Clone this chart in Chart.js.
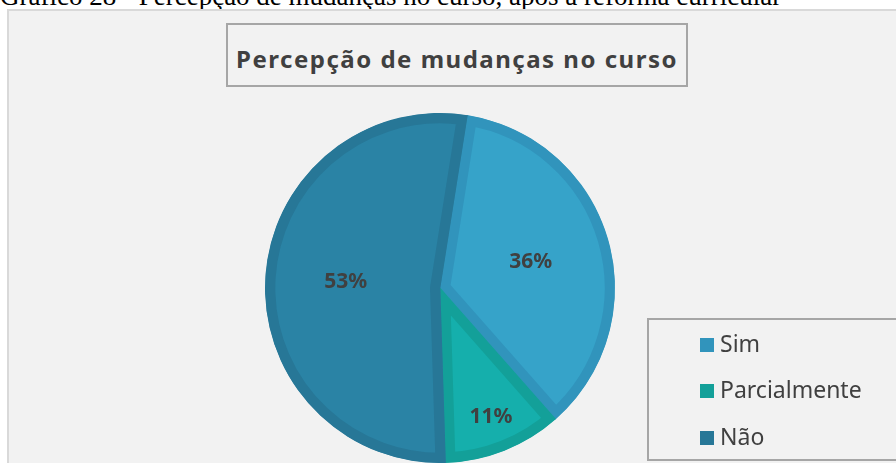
<!DOCTYPE html>
<html>
<head>
	<title>Percepção de mudanças no curso</title>
	<script src="https://cdn.jsdelivr.net/npm/chart.js"></script>
	<style>
		body {
			margin: 0px;
			padding: 0px;
			background: #ffffff;
			width: 896px;
			height: 463px;
			overflow: hidden;
			position: relative;
		}
		.caption {
			position: absolute;
			left: 0px;
			top: -17px;
			font-family: "Liberation Serif", serif;
			font-size: 27px;
			line-height: 27px;
			color: #000000;
			white-space: nowrap;
		}
		.chart-box {
			position: absolute;
			left: 7px;
			top: 9px;
			width: 920px;
			height: 480px;
			background: #f2f2f2;
			border: 2px solid #d9d9d9;
		}
		.title-box {
			position: absolute;
			left: 226px;
			top: 23px;
			width: 458px;
			height: 60px;
			border: 2px solid #a6a6a6;
			font-family: "Noto Sans", sans-serif;
			font-weight: bold;
			font-size: 24px;
			letter-spacing: 1.5px;
			color: #404040;
			text-align: center;
			line-height: 68px;
			overflow: hidden;
			white-space: nowrap;
		}
		.legend-box {
			position: absolute;
			left: 647px;
			top: 318px;
			width: 280px;
			height: 139px;
			border: 2px solid #a6a6a6;
		}
		.legend-box ul {
			list-style: none;
			margin: 0px;
			padding: 0px;
		}
		.legend-box li {
			position: absolute;
			left: 51px;
			font-family: "Noto Sans", sans-serif;
			font-size: 23px;
			color: #404040;
			line-height: 26px;
			white-space: nowrap;
		}
		.legend-box li span {
			display: inline-block;
			width: 14px;
			height: 14px;
			margin-right: 6px;
			vertical-align: 0px;
		}
		#pie {
			position: absolute;
			left: 0px;
			top: 0px;
		}
	</style>
</head>
<body>
	<div class="caption">Gráfico 28 - Percepção de mudanças no curso, após a reforma curricular</div>
	<div class="chart-box"></div>
	<div class="title-box">Percepção de mudanças no curso</div>
	<canvas id="pie" width="896" height="463"></canvas>
	<div class="legend-box"><ul id="legend"></ul></div>
	<script>
		var labels = ['Sim', 'Parcialmente', 'Não'];
		var values = [36, 11, 53];
		var fillColors = ['#36a3c9', '#15afac', '#2a83a5'];
		var edgeColors = ['#3194bc', '#13a099', '#277797'];

		// percentagens dentro das fatias
		var pctLabels = {
			id: 'pctLabels',
			afterDatasetsDraw: function(chart) {
				var ctx = chart.ctx;
				var meta = chart.getDatasetMeta(0);
				var total = values.reduce(function(a, b) { return a + b; }, 0);
				ctx.save();
				ctx.font = 'bold 21px "Noto Sans"';
				ctx.fillStyle = '#404040';
				ctx.textAlign = 'center';
				ctx.textBaseline = 'middle';
				meta.data.forEach(function(arc, i) {
					var p = arc.getProps(['x', 'y', 'startAngle', 'endAngle', 'outerRadius'], true);
					var mid = (p.startAngle + p.endAngle) / 2;
					var share = values[i] / total;
					var r = p.outerRadius * (share < 0.2 ? 0.79 : 0.54);
					var txt = Math.round(share * 100) + '%';
					ctx.fillText(txt, p.x + Math.cos(mid) * r, p.y + Math.sin(mid) * r);
				});
				ctx.restore();
			}
		};

		var ctx = document.getElementById('pie').getContext('2d');
		var chart = new Chart(ctx, {
			type: 'pie',
			data: {
				labels: labels,
				datasets: [{
					data: values,
					backgroundColor: fillColors,
					borderColor: edgeColors,
					borderWidth: 10,
					borderAlign: 'inner',
					hoverOffset: 0
				}]
			},
			options: {
				responsive: false,
				animation: false,
				rotation: 9,
				layout: {
					padding: { left: 265, right: 281, top: 113, bottom: 0 }
				},
				plugins: {
					legend: { display: false },
					title: { display: false },
					tooltip: { enabled: false }
				}
			},
			plugins: [pctLabels]
		});

		var legendList = document.getElementById('legend');
		var rowTops = [10, 56, 103];
		chart.data.labels.forEach(function(lab, i) {
			var li = document.createElement('li');
			li.style.top = rowTops[i] + 'px';
			var sw = document.createElement('span');
			sw.style.background = edgeColors[i];
			li.appendChild(sw);
			li.appendChild(document.createTextNode(lab));
			legendList.appendChild(li);
		});
	</script>
</body>
</html>
